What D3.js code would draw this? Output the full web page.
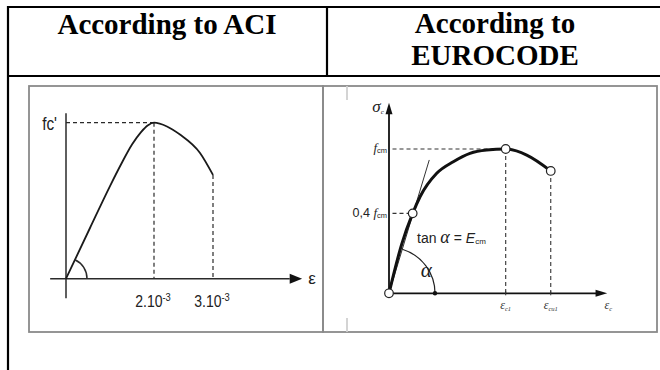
<!DOCTYPE html>
<html>
<head>
<meta charset="utf-8">
<script src="https://cdn.jsdelivr.net/npm/d3@7"></script>
<style>
  body { margin: 0; background: #fff; }
  svg { display: block; }
</style>
</head>
<body>
<div id="chart"></div>
<script>
// Header cells of the table
const headerLeft = ["According to ACI"];
const headerRight = ["According to", "EUROCODE"];

// ACI curve: strain (per mille) and stress as fraction of fc'
const aciStrain = [0, 0.545, 1.0, 1.273, 1.5, 1.705, 1.864, 2.0, 2.22, 2.44, 2.78, 3.0];
const aciStress = [0, 0.325, 0.594, 0.745, 0.86, 0.94, 0.984, 1.0, 0.976, 0.924, 0.806, 0.665];
const aciTicks = [2, 3];
const aciTickBase = ["2.10", "3.10"];
const aciTickExp = ["-3", "-3"];

// EUROCODE curve: strain over eps_c1, stress over fcm
const ecStrain = [0, 0.109, 0.203, 0.266, 0.409, 0.551, 0.694, 0.837, 1.0, 1.18, 1.386];
const ecStress = [0, 0.341, 0.554, 0.669, 0.832, 0.912, 0.970, 0.993, 1.0, 0.958, 0.848];
const ecMarked = [0, 2, 8, 10];           // indices drawn as open circles
const ecTangentX = [0, 0.345];
const ecTangentY = [0, 0.924];
const ecTicks = [1, 1.386];
const ecTickSub = ["c1", "cu1"];

const W = 660, H = 370;
const svg = d3.select("#chart").append("svg")
    .attr("width", W)
    .attr("height", H);

svg.append("rect").attr("width", W).attr("height", H).attr("fill", "#fff");

// ---- table grid ----
const grid = svg.append("g").attr("stroke", "#000").attr("stroke-width", 2.2);
grid.append("line").attr("x1", 7).attr("x2", 660).attr("y1", 7).attr("y2", 7);
grid.append("line").attr("x1", 7).attr("x2", 660).attr("y1", 76).attr("y2", 76);
grid.append("line").attr("x1", 8).attr("x2", 8).attr("y1", 6).attr("y2", 370);
grid.append("line").attr("x1", 327).attr("x2", 327).attr("y1", 7).attr("y2", 76);

const head = svg.append("g")
    .attr("font-family", "'Liberation Serif', 'Times New Roman', serif")
    .attr("font-weight", "bold")
    .attr("font-size", 29)
    .attr("text-anchor", "middle")
    .attr("fill", "#000");
head.selectAll(".hl").data(headerLeft).join("text")
    .attr("class", "hl")
    .attr("x", 167)
    .attr("y", (d, i) => 34 + i * 32)
    .text(d => d);
head.selectAll(".hr").data(headerRight).join("text")
    .attr("class", "hr")
    .attr("x", 495)
    .attr("y", (d, i) => 33 + i * 32)
    .text(d => d);

// ---- embedded picture frames ----
const frame = svg.append("g").attr("fill", "none").attr("stroke", "#8a8a8a").attr("stroke-width", 1.8);
frame.append("rect").attr("x", 29).attr("y", 86).attr("width", 294).attr("height", 246);
frame.append("rect").attr("x", 323).attr("y", 86).attr("width", 334).attr("height", 246);
frame.append("line").attr("x1", 347).attr("x2", 347).attr("y1", 86).attr("y2", 100).attr("stroke", "#d0d0d0");
frame.append("line").attr("x1", 347).attr("x2", 347).attr("y1", 318).attr("y2", 332).attr("stroke", "#d0d0d0");

// ================= ACI =================
const ink = "#2a2a2a";
const xA = d3.scaleLinear().domain([0, 2, 3]).range([66, 154, 213]);
const yA = d3.scaleLinear().domain([0, 1]).range([278.7, 122.7]);
const aci = svg.append("g");

// axes
aci.append("line")
    .attr("x1", xA(-0.36)).attr("x2", xA(4.3))
    .attr("y1", yA(0)).attr("y2", yA(0))
    .attr("stroke", ink).attr("stroke-width", 1.5);
aci.append("line")
    .attr("x1", xA(0)).attr("x2", xA(0))
    .attr("y1", yA(-0.126)).attr("y2", yA(1.06))
    .attr("stroke", ink).attr("stroke-width", 1.5);
aci.append("path")
    .attr("d", `M${xA(4.51)},${yA(0)} L${xA(4.3)},${yA(0) - 5} L${xA(4.3)},${yA(0) + 5} Z`)
    .attr("fill", "#111");

// dashed guides
const dash = "4,3";
aci.append("line")
    .attr("x1", xA(0)).attr("x2", xA(2))
    .attr("y1", yA(1)).attr("y2", yA(1))
    .attr("stroke", ink).attr("stroke-width", 1.2).attr("stroke-dasharray", dash);
aci.selectAll(".vguide").data(aciTicks).join("line")
    .attr("class", "vguide")
    .attr("x1", d => xA(d)).attr("x2", d => xA(d))
    .attr("y1", d => yA(aciStress[aciStrain.indexOf(d)])).attr("y2", yA(0))
    .attr("stroke", ink).attr("stroke-width", 1.2).attr("stroke-dasharray", dash);

// curve
const aciData = aciStrain.map((e, i) => ({ e, s: aciStress[i] }));
aci.append("path")
    .datum(aciData)
    .attr("fill", "none")
    .attr("stroke", "#1a1a1a")
    .attr("stroke-width", 1.8)
    .attr("d", d3.line().x(d => xA(d.e)).y(d => yA(d.s)).curve(d3.curveMonotoneX));

// angle arc
const aAng = Math.atan2(yA(0) - yA(aciStress[1]), xA(aciStrain[1]) - xA(0));
aci.append("path")
    .attr("transform", `translate(${xA(0)},${yA(0)})`)
    .attr("d", d3.arc()({ innerRadius: 21, outerRadius: 21, startAngle: Math.PI / 2 - aAng, endAngle: Math.PI / 2 }))
    .attr("fill", "none").attr("stroke", ink).attr("stroke-width", 1.5);

// labels
const sans = "'Liberation Sans', Arial, sans-serif";
aci.append("text")
    .attr("transform", `translate(${xA(0) - 9},${yA(1) + 7}) scale(0.85,1)`)
    .attr("text-anchor", "end")
    .attr("font-family", sans).attr("font-size", 18).attr("fill", "#222")
    .text("fc'");
aci.append("text")
    .attr("x", xA(4.51) + 10).attr("y", yA(0) + 5)
    .attr("text-anchor", "middle")
    .attr("font-family", sans).attr("font-size", 17).attr("fill", "#222")
    .text("ε");
const tl = aci.selectAll(".tick").data(aciTicks).join("text")
    .attr("class", "tick")
    .attr("transform", d => `translate(${xA(d) - 1},${yA(0) + 28}) scale(0.85,1)`)
    .attr("text-anchor", "middle")
    .attr("font-family", sans).attr("font-size", 16.5).attr("fill", "#222");
tl.append("tspan").text((d, i) => aciTickBase[i]);
tl.append("tspan").attr("dy", -6).attr("font-size", 11).text((d, i) => aciTickExp[i]);

// ================= EUROCODE =================
const xE = d3.scaleLinear().domain([0, 1]).range([389, 505.7]);
const yE = d3.scaleLinear().domain([0, 1]).range([293.3, 149]);
const ec = svg.append("g");

// axes
ec.append("line")
    .attr("x1", xE(0)).attr("x2", xE(1.79))
    .attr("y1", yE(0)).attr("y2", yE(0))
    .attr("stroke", "#111").attr("stroke-width", 1.8);
ec.append("line")
    .attr("x1", xE(0)).attr("x2", xE(0))
    .attr("y1", yE(0)).attr("y2", yE(1.25))
    .attr("stroke", "#111").attr("stroke-width", 1.8);
ec.append("path")
    .attr("d", `M${xE(1.87)},${yE(0)} L${xE(1.77)},${yE(0) - 3.5} L${xE(1.77)},${yE(0) + 3.5} Z`)
    .attr("fill", "#111");
ec.append("path")
    .attr("d", `M${xE(0)},${yE(1.32)} L${xE(0) - 3.5},${yE(1.24)} L${xE(0) + 3.5},${yE(1.24)} Z`)
    .attr("fill", "#111");

// tick marks
ec.selectAll(".etick").data(ecTicks).join("line")
    .attr("class", "etick")
    .attr("x1", d => xE(d)).attr("x2", d => xE(d))
    .attr("y1", yE(0) - 2).attr("y2", yE(0) + 2)
    .attr("stroke", "#333").attr("stroke-width", 1);

// dashed guides
const pk = ecMarked[2], en = ecMarked[3], lo = ecMarked[1];
ec.append("line")
    .attr("x1", xE(0.03)).attr("x2", xE(ecStrain[pk]))
    .attr("y1", yE(ecStress[pk])).attr("y2", yE(ecStress[pk]))
    .attr("stroke", "#333").attr("stroke-width", 1.1).attr("stroke-dasharray", "4,3");
ec.append("line")
    .attr("x1", xE(0.03)).attr("x2", xE(ecStrain[lo]))
    .attr("y1", yE(ecStress[lo])).attr("y2", yE(ecStress[lo]))
    .attr("stroke", "#333").attr("stroke-width", 1.1).attr("stroke-dasharray", "4,3");
ec.selectAll(".edrop").data([pk, en]).join("line")
    .attr("class", "edrop")
    .attr("x1", d => xE(ecStrain[d])).attr("x2", d => xE(ecStrain[d]))
    .attr("y1", d => yE(ecStress[d])).attr("y2", yE(0))
    .attr("stroke", "#333").attr("stroke-width", 1.1).attr("stroke-dasharray", "4,3");

// tangent line
ec.append("line")
    .attr("x1", xE(ecTangentX[0])).attr("x2", xE(ecTangentX[1]))
    .attr("y1", yE(ecTangentY[0])).attr("y2", yE(ecTangentY[1]))
    .attr("stroke", "#333").attr("stroke-width", 1);

// angle arc + dot
const eAng = Math.atan2(yE(0) - yE(ecTangentY[1]), xE(ecTangentX[1]) - xE(0));
ec.append("path")
    .attr("transform", `translate(${xE(0)},${yE(0)})`)
    .attr("d", d3.arc()({ innerRadius: 46, outerRadius: 46, startAngle: Math.PI / 2 - eAng, endAngle: Math.PI / 2 }))
    .attr("fill", "none").attr("stroke", "#222").attr("stroke-width", 1.2);
ec.append("circle")
    .attr("cx", xE(0) + 46).attr("cy", yE(0)).attr("r", 2.2).attr("fill", "#111");

// curve
const ecData = ecStrain.map((e, i) => ({ e, s: ecStress[i] }));
ec.append("path")
    .datum(ecData)
    .attr("fill", "none")
    .attr("stroke", "#111")
    .attr("stroke-width", 3)
    .attr("d", d3.line().x(d => xE(d.e)).y(d => yE(d.s)).curve(d3.curveMonotoneX));

ec.selectAll(".mk").data(ecMarked).join("circle")
    .attr("class", "mk")
    .attr("cx", d => xE(ecStrain[d])).attr("cy", d => yE(ecStress[d]))
    .attr("r", 4.3)
    .attr("fill", "#fff").attr("stroke", "#222").attr("stroke-width", 1.2);

// labels
const serif = "'Liberation Serif', 'Times New Roman', serif";
ec.append("text")
    .attr("x", xE(0) - 11).attr("y", yE(1.3) + 6)
    .attr("text-anchor", "middle")
    .attr("font-family", serif).attr("font-style", "italic").attr("font-size", 17).attr("fill", "#222")
    .call(t => { t.append("tspan").text("σ"); t.append("tspan").attr("font-size", 7).attr("dy", 2).text("c"); });

function fLabel(sel, prefix) {
    if (prefix) sel.append("tspan").attr("font-family", sans).attr("font-style", "normal").attr("font-size", 12.5).text(prefix);
    sel.append("tspan").attr("font-family", serif).attr("font-style", "italic").attr("font-size", 13).text("f");
    sel.append("tspan").attr("font-family", sans).attr("font-size", 7.5).attr("dy", 1).text("cm");
}
ec.append("text")
    .attr("x", xE(0) - 2).attr("y", yE(ecStress[pk]) + 3)
    .attr("text-anchor", "end").attr("fill", "#222")
    .call(t => fLabel(t, null));
ec.append("text")
    .attr("x", xE(0) - 2).attr("y", yE(ecStress[lo]) + 4)
    .attr("text-anchor", "end").attr("fill", "#222")
    .call(t => fLabel(t, "0,4 "));

ec.append("text")
    .attr("x", xE(0.24)).attr("y", yE(0.35))
    .attr("fill", "#222")
    .call(t => {
        t.append("tspan").attr("font-family", sans).attr("font-size", 14).text("tan ");
        t.append("tspan").attr("font-family", serif).attr("font-style", "italic").attr("font-size", 18).text("α");
        t.append("tspan").attr("font-family", sans).attr("font-size", 14).text(" = ");
        t.append("tspan").attr("font-family", sans).attr("font-style", "italic").attr("font-size", 14).text("E");
        t.append("tspan").attr("font-family", sans).attr("font-size", 8).attr("dy", 1).text("cm");
    });

ec.append("text")
    .attr("x", xE(0.32)).attr("y", yE(0.11))
    .attr("text-anchor", "middle")
    .attr("font-family", serif).attr("font-style", "italic").attr("font-size", 21).attr("fill", "#222")
    .text("α");

ec.selectAll(".etl").data(ecTicks).join("text")
    .attr("class", "etl")
    .attr("x", d => xE(d)).attr("y", yE(0) + 16)
    .attr("text-anchor", "middle")
    .attr("font-family", serif).attr("font-style", "italic").attr("font-size", 12).attr("fill", "#333")
    .call(t => {
        t.append("tspan").text("ε");
        t.append("tspan").attr("font-size", 6.5).attr("dy", 1.5).text((d, i) => ecTickSub[i]);
    });
ec.append("text")
    .attr("x", xE(1.87) + 1).attr("y", yE(0) + 16)
    .attr("text-anchor", "middle")
    .attr("font-family", serif).attr("font-style", "italic").attr("font-size", 12).attr("fill", "#333")
    .call(t => {
        t.append("tspan").text("ε");
        t.append("tspan").attr("font-size", 6.5).attr("dy", 1.5).text("c");
    });
</script>
</body>
</html>
